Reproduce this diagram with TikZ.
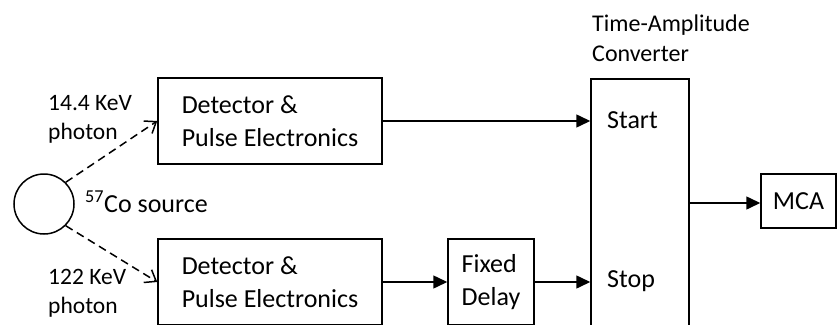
\documentclass[tikz,border=0pt]{standalone}
\usepackage{fontspec}
\setmainfont{Carlito}
\usepackage{tikz}
\usetikzlibrary{arrows.meta,positioning}
\tikzset{
  caixa/.style={rectangle,draw=black,line width=1.5pt,align=left,inner sep=0pt,
    font=\fontsize{26}{33}\selectfont},
  fonte/.style={circle,draw=black,line width=1.5pt,minimum size=60pt,inner sep=0pt},
  rotulo/.style={inner sep=0pt,align=left,font=\fontsize{23.5}{29}\selectfont},
  texto/.style={inner sep=0pt,font=\fontsize{26}{33}\selectfont},
  seta/.style={-{Triangle[length=14pt,width=13pt]},line width=1.5pt},
  tracejada/.style={-{Straight Barb[length=10pt,width=15pt,line width=1.5pt]},
    line width=1.5pt,dash pattern=on 8pt off 5pt}
}
\begin{document}
\begin{tikzpicture}[x=1pt,y=-1pt]
\clip (0,0) rectangle (837,324);
\fill[white] (0,0) rectangle (837,324);
% fonte radioativa
\node[fonte] (src) at (44,204) {};
\node[texto,anchor=base west] (srcrot) at (85,212) {\textsuperscript{57}Co source};
% detectores
\node[caixa,minimum width=224pt,minimum height=86pt] (detA) at (270,121)
  {Detector \&\\Pulse Electronics};
\node[caixa,minimum width=224pt,minimum height=86pt] (detB) at (270,282)
  {Detector \&\\Pulse Electronics};
\node[caixa,minimum width=86pt,minimum height=86pt] (atraso) at (491,282)
  {Fixed\\Delay};
% conversor tempo-amplitude
\node[caixa,minimum width=98pt,minimum height=248pt] (tac) at (640,203) {};
\node[rotulo,anchor=west,font=\fontsize{24}{30}\selectfont] (tacrot) at (592,38)
  {Time-Amplitude\\Converter};
\node[texto,anchor=base west] (start) at (607,128) {Start};
\node[texto,anchor=base west] (stop) at (607,287) {Stop};
\node[caixa,minimum width=75pt,minimum height=54pt,align=center] (mca) at (798.5,201) {MCA};
% fotons
\node[rotulo,anchor=west] (fotA) at (48,119) {14.4 KeV\\photon};
\node[rotulo,anchor=west] (fotB) at (48,293) {122 KeV\\photon};
\draw[tracejada] (src.45) -- (detA.west);
\draw[tracejada] (src.-45) -- (detB.west);
% sinais
\draw[seta] (detA.east) -- (detA.east -| tac.west);
\draw[seta] (detB.east) -- (atraso.west);
\draw[seta] (atraso.east) -- (atraso.east -| tac.west);
\draw[seta] (tac.east) -- (tac.east -| mca.west);
\end{tikzpicture}
\end{document}
